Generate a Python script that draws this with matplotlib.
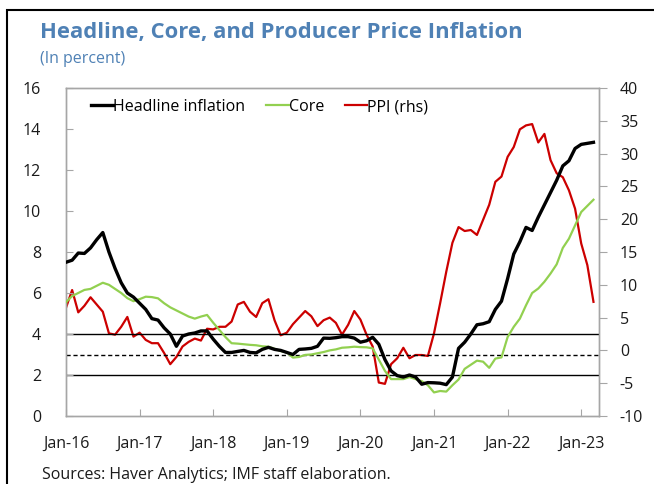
import numpy as np
import matplotlib.pyplot as plt
from matplotlib.patches import Rectangle
from matplotlib.lines import Line2D

plt.rcParams['font.family'] = ['Open Sans', 'DejaVu Sans']
plt.rcParams['axes.unicode_minus'] = False

# monthly, Jan-16 .. Mar-23
headline = [7.5, 7.6, 7.95, 7.93, 8.2, 8.6, 8.95, 8.0, 7.2, 6.5,
            6.0, 5.8, 5.5, 5.2, 4.75, 4.68, 4.3, 4.0, 3.4, 3.9,
            4.0, 4.05, 4.15, 4.15, 3.75, 3.4, 3.1, 3.1, 3.15, 3.2,
            3.1, 3.08, 3.25, 3.35, 3.25, 3.2, 3.1, 3.0, 3.25, 3.27,
            3.3, 3.4, 3.8, 3.79, 3.82, 3.87, 3.87, 3.8, 3.6, 3.67,
            3.84, 3.5, 2.75, 2.2, 1.97, 1.9, 2.0, 1.9, 1.55, 1.63,
            1.62, 1.6, 1.53, 1.9, 3.3, 3.6, 4.0, 4.45, 4.5, 4.6,
            5.2, 5.6, 6.7, 7.9, 8.5, 9.2, 9.05, 9.7, 10.3, 10.9,
            11.5, 12.2, 12.45, 13.05, 13.25, 13.3, 13.35]

core = [5.55, 5.85, 6.0, 6.15, 6.2, 6.35, 6.5, 6.4, 6.2, 6.0,
        5.75, 5.6, 5.7, 5.82, 5.8, 5.74, 5.5, 5.3, 5.15, 5.0,
        4.85, 4.75, 4.85, 4.93, 4.55, 4.2, 3.85, 3.55, 3.53, 3.5,
        3.47, 3.45, 3.4, 3.38, 3.28, 3.17, 3.1, 2.85, 2.88, 2.98,
        3.0, 3.06, 3.12, 3.2, 3.25, 3.33, 3.35, 3.38, 3.36, 3.35,
        3.3, 2.75, 2.2, 1.8, 1.8, 1.8, 1.9, 1.8, 1.7, 1.5,
        1.15, 1.22, 1.19, 1.5, 1.78, 2.3, 2.5, 2.7, 2.65, 2.35,
        2.8, 2.86, 3.85, 4.35, 4.75, 5.4, 6.0, 6.22, 6.55, 6.95,
        7.4, 8.2, 8.65, 9.3, 9.95, 10.25, 10.55]

ppi = [6.5, 9.2, 5.8, 6.8, 8.1, 7.0, 5.9, 2.6, 2.4, 3.6,
       5.1, 2.1, 2.7, 1.6, 1.1, 1.1, -0.4, -2.1, -1.0, 0.6,
       1.3, 1.8, 1.5, 3.3, 3.2, 3.6, 3.6, 4.4, 7.0, 7.4,
       5.9, 5.1, 7.2, 7.8, 4.6, 2.3, 2.7, 4.0, 5.0, 6.0,
       5.2, 3.7, 4.6, 5.0, 4.2, 2.4, 3.9, 6.0, 4.7, 2.4,
       0.6, -4.9, -5.1, -2.1, -1.2, 0.4, -1.2, -0.7, -0.7, -0.85,
       2.6, 7.2, 12.0, 16.4, 18.8, 18.2, 18.35, 17.6, 19.9, 22.2,
       25.7, 26.5, 29.5, 31.0, 33.7, 34.3, 34.5, 31.7, 33.0, 29.0,
       27.0, 26.4, 24.4, 21.6, 16.3, 13.0, 7.4]

tick_labels = ['Jan-16', 'Jan-17', 'Jan-18', 'Jan-19', 'Jan-20',
               'Jan-21', 'Jan-22', 'Jan-23']
target_band = [2, 4]
target = 3

W, H = 654, 484
fig = plt.figure(figsize=(W/100, H/100), dpi=100)
ax = fig.add_axes([66/W, 1-416/H, 533/W, 328/H])
ax2 = ax.twinx()

x = np.arange(len(headline))
blue = '#4f81b5'
grey = '#a6a6a6'

for v in target_band:
    ax.axhline(v, color='black', lw=1.0, zorder=1)
ax.axhline(target, color='black', lw=1.0, ls=(0, (3, 2)), zorder=1)

ax.plot(x, core, color='#92d050', lw=1.6, zorder=3)
ax.plot(x, headline, color='black', lw=2.4, zorder=4)
ax2.plot(x, ppi, color='#cc0000', lw=1.6)

ax.set_zorder(ax2.get_zorder() + 1)
ax.patch.set_visible(False)

ax.set_xlim(0, 86.9)
ax.set_ylim(0, 16)
ax2.set_ylim(-10, 40)
ax.set_yticks(range(0, 17, 2))
ax2.set_yticks(range(-10, 41, 5))
ax.set_xticks(range(0, 85, 12))
ax.set_xticklabels(tick_labels)

for a in (ax, ax2):
    for s in a.spines.values():
        s.set_color(grey)
        s.set_linewidth(1.0)

ax.tick_params(axis='y', direction='in', length=5, color=grey, pad=18,
               labelsize=11.5, labelcolor='#1a1a1a')
ax.tick_params(axis='x', direction='in', length=5, color=grey, pad=14,
               labelsize=11.5, labelcolor='#1a1a1a')
ax2.tick_params(axis='y', direction='out', length=6, color=grey, pad=9,
                labelsize=11.5, labelcolor='#1a1a1a')

handles = [Line2D([], [], color='black', lw=2.4),
           Line2D([], [], color='#92d050', lw=1.6),
           Line2D([], [], color='#cc0000', lw=1.6)]
ax.legend(handles, ['Headline inflation', 'Core', 'PPI (rhs)'],
          loc='center left', bbox_to_anchor=(0.035, 0.942), ncol=3,
          frameon=False, fontsize=11.5, handlelength=1.4,
          handletextpad=0.0, columnspacing=1.3, borderaxespad=0)

fig.text(40/W, 1-33/H, 'Headline, Core, and Producer Price Inflation',
         color=blue, fontsize=15.8, fontweight='bold', va='center')
fig.text(40/W, 1-59/H, '(In percent)', color=blue, fontsize=11.5, va='center')
fig.text(42/W, 1-475/H, 'Sources: Haver Analytics; IMF staff elaboration.',
         fontsize=11.5, color='#1a1a1a', va='center')

fig.patches.append(Rectangle((7/W, -0.1), 1.2, 1-10/H+0.1, transform=fig.transFigure,
                             fill=False, ec='black', lw=1.5, clip_on=False))

fig.savefig('out.png', dpi=100)
